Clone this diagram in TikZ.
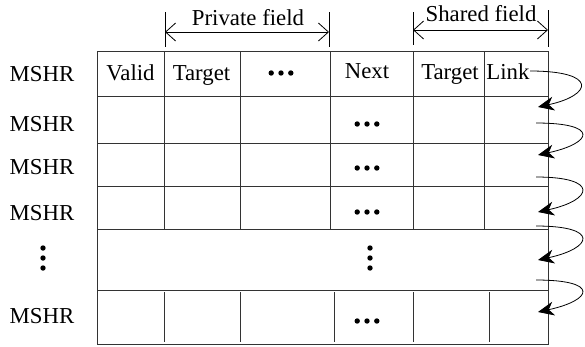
\documentclass[tikz,border=0pt]{standalone}
\usepackage{fontspec}
\setmainfont{Liberation Serif}
\usetikzlibrary{arrows.meta}
\begin{document}
\begin{tikzpicture}[x=1pt,y=-1pt,
  lbl/.style={font=\fontsize{22.8}{27}\selectfont, inner sep=0pt, anchor=base},
  gridline/.style={line width=0.9pt, draw=black!80},
  linkarrow/.style={line width=0.8pt, -{Stealth[length=16pt,width=14pt,inset=5pt]}},
  spanarrow/.style={line width=0.8pt, {Straight Barb[length=10pt,width=18pt]}-{Straight Barb[length=10pt,width=18pt]}},
  tickline/.style={line width=0.8pt},
  hdot/.pic={\foreach \i in {-1,0,1} \fill (\i*9.8,0) circle (2.7);},
  vdot/.pic={\foreach \i in {-1,0,1} \fill (0,\i*10) circle (2.7);}]
\useasboundingbox (0,0) rectangle (585,346);

% table grid
\draw[gridline] (97,51) rectangle (548,344);
\foreach \y in {96,143,186,229,290} \draw[gridline] (97,\y) -- (548,\y);
\foreach \x in {164,240,330,413,484} \draw[gridline] (\x,51) -- (\x,229);
\foreach \x in {164,240,334,413,489} \draw[gridline] (\x,292) -- (\x,342);

% brackets
\draw[tickline] (165,12) -- (165,47);
\draw[tickline] (329,12) -- (329,47);
\coordinate (pl) at (165,32);
\coordinate (pr) at (329,32);
\draw[spanarrow] (pl) -- (pr);
\node[lbl] (private) at (248,25) {Private field};
\draw[tickline] (413,12) -- (413,45);
\draw[tickline] (548,10) -- (548,47);
\coordinate (sl) at (413,30);
\coordinate (sr) at (548,30);
\draw[spanarrow] (sl) -- (sr);
\node[lbl] (shared) at (481,21) {Shared field};

% row labels
\node[lbl] (m1) at (42,81) {MSHR};
\node[lbl] (m2) at (42,131) {MSHR};
\node[lbl] (m3) at (42,174) {MSHR};
\node[lbl] (m4) at (42,220) {MSHR};
\node[lbl] (m6) at (42,323) {MSHR};
\pic (m5) at (43,258) {vdot};

% header
\node[lbl] (valid) at (130.5,80) {Valid};
\node[lbl] (target1) at (201.5,80) {Target};
\pic (hd) at (281,73) {hdot};
\node[lbl] (next) at (367,78) {Next};
\node[lbl] (target2) at (450,79) {Target};
\node[lbl] (link) at (508,79) {Link};

% dots in Next column
\pic (d2) at (367,124) {hdot};
\pic (d3) at (367,168) {hdot};
\pic (d4) at (367,212) {hdot};
\pic (d5) at (370,258) {vdot};
\pic (d6) at (367,321) {hdot};

% link arrows
\coordinate (s1) at (530,71);  \coordinate (e1) at (538,107);
\coordinate (s2) at (536,123); \coordinate (e2) at (538,155);
\coordinate (s3) at (536,177); \coordinate (e3) at (538,212);
\coordinate (s4) at (536,226); \coordinate (e4) at (538,260);
\coordinate (s5) at (536,280); \coordinate (e5) at (538,312);
\draw[linkarrow] (s1) .. controls +(68,0) and +(55,-12) .. (e1);
\foreach \k in {2,3,4,5}
  \draw[linkarrow] (s\k) .. controls +(64,0) and +(55,-12) .. (e\k);
\end{tikzpicture}
\end{document}
